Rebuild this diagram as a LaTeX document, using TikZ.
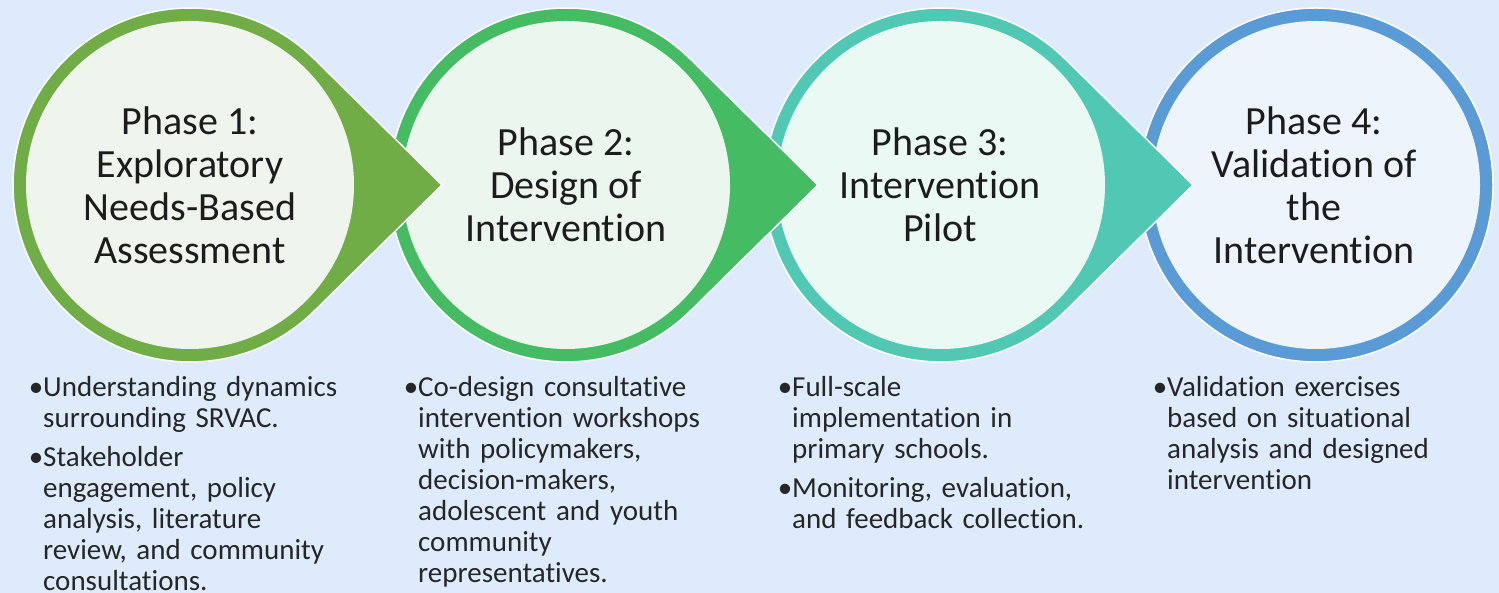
\documentclass[tikz,border=0pt]{standalone}
\usepackage{fontspec}
\setmainfont{Carlito}[Ligatures=NoCommon]
\definecolor{bg}{HTML}{DEEBFC}
\definecolor{ringA}{HTML}{70AD47}
\definecolor{fillA}{HTML}{EFF5EC}
\definecolor{ringB}{HTML}{45BC63}
\definecolor{fillB}{HTML}{EAF6EE}
\definecolor{ringC}{HTML}{50C8B4}
\definecolor{fillC}{HTML}{EBF9F4}
\definecolor{ringD}{HTML}{5B9BD5}
\definecolor{fillD}{HTML}{EDF4FB}
\definecolor{txt}{HTML}{1C1C1C}
\definecolor{btxt}{HTML}{262626}
\newcommand\phaseshape[3]{%
  \path[fill=#2, draw=white, line width=1.5pt]
    ([shift={(45.4:177)}]#1,408) arc[start angle=45.4, end angle=314.6, radius=177]
    -- (#1+252,408) -- cycle;
  \fill[#3] (#1,408) circle[radius=164];
}
\newcommand\bitem[1]{\noindent\llap{•}#1\par}
\begin{document}
\begin{tikzpicture}[x=1pt,y=1pt,
  title/.style={align=center, text=txt, inner sep=0pt,
    font=\fontsize{40}{43}\selectfont},
  bul/.style={anchor=base west, text width=360pt, align=left, inner sep=0pt,
    text=btxt, font=\fontsize{29}{31}\selectfont\setlength{\parskip}{8pt}}]
\fill[bg] (0,0) rectangle (1499,593);
\useasboundingbox (0,0) rectangle (1499,593);
% shapes drawn from last to first so each tip lies over the next circle
\fill[ringD] (1316,408) circle[radius=177];
\draw[white, line width=1.5pt] (1316,408) circle[radius=177];
\fill[fillD] (1316,408) circle[radius=164];
\phaseshape{941}{ringC}{fillC}
\phaseshape{566}{ringB}{fillB}
\phaseshape{190}{ringA}{fillA}
% titles
\node[title] (p1) at (190,408) {Phase 1:\\Exploratory\\Needs-Based\\Assessment};
\node[title] (p2) at (566,408) {Phase 2:\\Design of\\Intervention};
\node[title] (p3) at (940,408) {Phase 3:\\Intervention\\Pilot};
\node[title] (p4) at (1314,408) {Phase 4:\\Validation of\\the\\Intervention};
% bullet texts
\node[bul] (b1) at (43,196) {\bitem{Understanding dynamics\\surrounding SRVAC.}\bitem{Stakeholder\\engagement, policy\\analysis, literature\\review, and community\\consultations.}};
\node[bul] (b2) at (418,196) {\bitem{Co-design consultative\\intervention workshops\\with policymakers,\\decision-makers,\\adolescent and youth\\community\\representatives.}};
\node[bul] (b3) at (792,196) {\bitem{Full-scale\\implementation in\\primary schools.}\bitem{Monitoring, evaluation,\\and feedback collection.}};
\node[bul] (b4) at (1167,196) {\bitem{Validation exercises\\based on situational\\analysis and designed\\intervention}};
\end{tikzpicture}
\end{document}
